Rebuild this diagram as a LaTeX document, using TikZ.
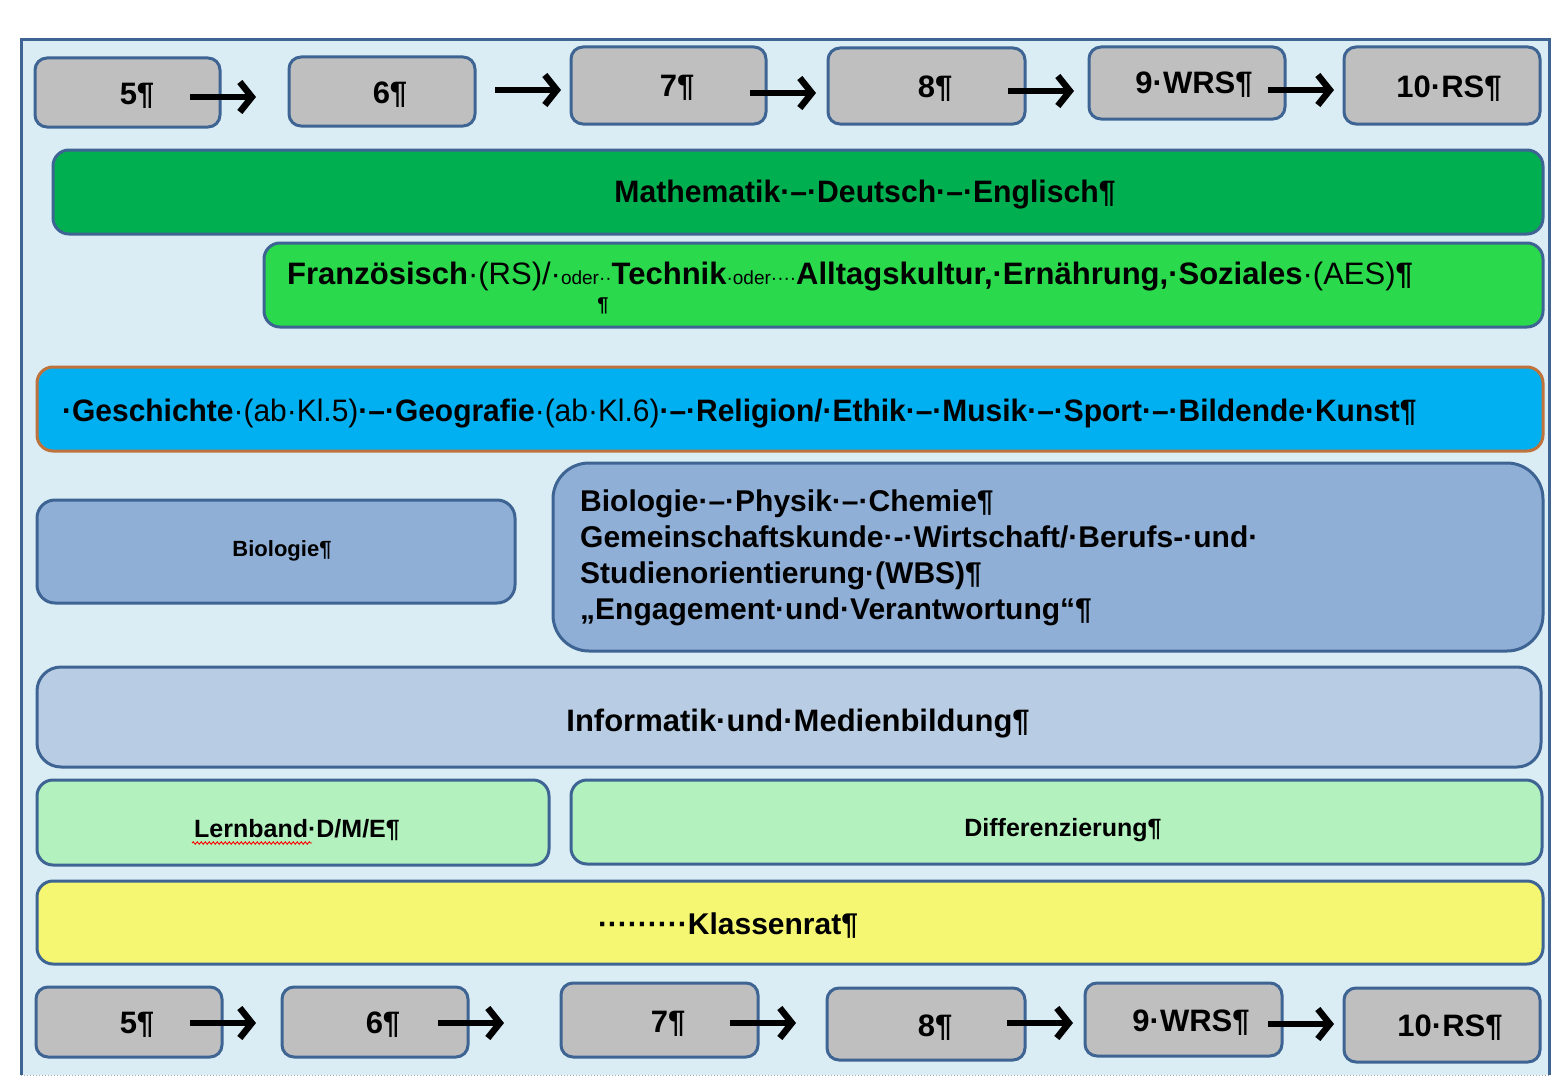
\documentclass[tikz,border=0pt]{standalone}
\usepackage{fontspec}
\setmainfont{Liberation Sans}
\usetikzlibrary{arrows.meta,fit,decorations.pathmorphing}
\definecolor{framebg}{RGB}{218,236,244}
\definecolor{bord}{RGB}{62,100,148}
\definecolor{boxgray}{RGB}{191,191,191}
\definecolor{greenA}{RGB}{0,176,80}
\definecolor{greenB}{RGB}{42,217,76}
\definecolor{cyanbar}{RGB}{0,176,240}
\definecolor{orangebord}{RGB}{190,115,60}
\definecolor{steel}{RGB}{143,175,215}
\definecolor{lightsteel}{RGB}{184,204,228}
\definecolor{mint}{RGB}{179,241,191}
\definecolor{yel}{RGB}{245,247,115}
\newcommand{\fs}[1]{\fontsize{#1}{#1}\selectfont}
\begin{document}
\begin{tikzpicture}[x=1pt,y=-1pt,
  box/.style={draw=bord, line width=3pt, rounded corners=#1, inner sep=0pt},
  box/.default=12pt,
  yr/.style={box, fill=boxgray},
  lab/.style={inner sep=0pt, anchor=base, font=\bfseries\fs{31}},
  arr/.style={line width=6.5pt, -{Straight Barb[length=12pt,width=30pt]}},
]
\useasboundingbox (0,0) rectangle (1556,1081);
% frame
\fill[framebg] (21,40) rectangle (1549,1075);
\draw[bord, line width=3pt] (21,1075) -- (21,40) -- (1549,40) -- (1549,1075);
\draw[gray!70, dotted, line width=1pt] (21,1075) -- (1549,1075);

% ---- top row
\node[yr, fit={(35,58)(220,127)}] (t5) {};
\node[yr, fit={(289,57)(475,126)}] (t6) {};
\node[yr, fit={(571,47)(766,124)}] (t7) {};
\node[yr, fit={(828,48)(1025,124)}] (t8) {};
\node[yr, fit={(1089,47)(1285,119)}] (t9) {};
\node[yr, fit={(1344,47)(1540,124)}] (t10) {};
\node[lab] (t5l) at (137,104) {5¶};
\node[lab] (t6l) at (390,103) {6¶};
\node[lab] (t7l) at (677,96) {7¶};
\node[lab] (t8l) at (935,97) {8¶};
\node[lab] (t9l) at (1194,93) {9·WRS¶};
\node[lab] (t10l) at (1449,97) {10·RS¶};
\coordinate (ta1s) at (190,97);  \coordinate (ta1e) at (256,97);
\coordinate (ta2s) at (495,90);  \coordinate (ta2e) at (561,90);
\coordinate (ta3s) at (750,93);  \coordinate (ta3e) at (816,93);
\coordinate (ta4s) at (1008,91); \coordinate (ta4e) at (1074,91);
\coordinate (ta5s) at (1268,90); \coordinate (ta5e) at (1334,90);
\foreach \i in {1,...,5} \draw[arr] (ta\i s) -- (ta\i e);

% ---- bars
\node[box=16pt, fill=greenA, fit={(53,150)(1543,234)}] (mde) {};
\node[lab] (mdel) at (865,202) {\scalebox{0.973}[1]{Mathematik·–·Deutsch·–·Englisch¶}};

\node[box=16pt, fill=greenB, fit={(264,243)(1543,327)}] (wpf) {};
\node[lab, anchor=base west] (wpfl) at (287,284) {Französisch{\mdseries·(RS)/·{\fs{19}oder··}}Technik{\mdseries\fs{19}·oder····}Alltagskultur,·Ernährung,·Soziales{\mdseries·(AES)}¶};
\node[lab, anchor=base, font=\bfseries\fs{20}] (wpfp) at (603,311) {¶};

\node[box=16pt, fill=cyanbar, draw=orangebord, fit={(37,367)(1543,451)}] (ges) {};
\node[lab, anchor=base west] (gesl) at (62,421) {\scalebox{0.966}[1]{·Geschichte{\mdseries·(ab·Kl.5)}·–·Geografie{\mdseries·(ab·Kl.6)}·–·Religion/·Ethik·–·Musik·–·Sport·–·Bildende·Kunst¶}};

\node[box=18pt, fill=steel, fit={(37,500)(515,603)}] (bio) {};
\node[lab, font=\bfseries\fs{22}] (biol) at (282,556) {Biologie¶};

\node[box=36pt, fill=steel, fit={(553,463)(1543,651)}] (nat) {};
\node[lab, anchor=north west, align=left, font=\bfseries\fontsize{30}{36}\selectfont] (natl) at (580,490) {Biologie·–·Physik·–·Chemie¶\\Gemeinschaftskunde·-·Wirtschaft/·Berufs-·und·\\Studienorientierung·(WBS)¶\\„Engagement·und·Verantwortung“¶};

\node[box=24pt, fill=lightsteel, fit={(37,667)(1541,767)}] (inf) {};
\node[lab] (infl) at (798,731) {Informatik·und·Medienbildung¶};

\node[box=16pt, fill=mint, fit={(37,780)(549,865)}] (lern) {};
\node[lab, font=\bfseries\fs{25}] (lernl) at (297,837) {Lernband·D/M/E¶};
\coordinate (wav1) at (192,843); \coordinate (wav2) at (312,843);
\draw[red, line width=0.9pt, decorate, decoration={snake, amplitude=1.2pt, segment length=4pt}] (wav1) -- (wav2);

\node[box=16pt, fill=mint, fit={(571,780)(1542,864)}] (dif) {};
\node[lab, font=\bfseries\fs{25}] (difl) at (1063,836) {Differenzierung¶};

\node[box=16pt, fill=yel, fit={(37,881)(1543,964)}] (kr) {};
\node[lab, font=\bfseries\fs{30}] (krl) at (728,934) {·········Klassenrat¶};

% ---- bottom row
\node[yr, fit={(36,987)(222,1057)}] (b5) {};
\node[yr, fit={(282,987)(468,1057)}] (b6) {};
\node[yr, fit={(561,983)(758,1057)}] (b7) {};
\node[yr, fit={(827,988)(1025,1060)}] (b8) {};
\node[yr, fit={(1085,983)(1282,1056)}] (b9) {};
\node[yr, fit={(1344,988)(1540,1062)}] (b10) {};
\node[lab] (b5l) at (137,1033) {5¶};
\node[lab] (b6l) at (383,1033) {6¶};
\node[lab] (b7l) at (668,1032) {7¶};
\node[lab] (b8l) at (935,1036) {8¶};
\node[lab] (b9l) at (1191,1031) {9·WRS¶};
\node[lab] (b10l) at (1450,1036) {10·RS¶};
\coordinate (ba1s) at (190,1023);  \coordinate (ba1e) at (256,1023);
\coordinate (ba2s) at (438,1023);  \coordinate (ba2e) at (504,1023);
\coordinate (ba3s) at (730,1023);  \coordinate (ba3e) at (796,1023);
\coordinate (ba4s) at (1007,1023); \coordinate (ba4e) at (1073,1023);
\coordinate (ba5s) at (1268,1024); \coordinate (ba5e) at (1334,1024);
\foreach \i in {1,...,5} \draw[arr] (ba\i s) -- (ba\i e);
\end{tikzpicture}
\end{document}
